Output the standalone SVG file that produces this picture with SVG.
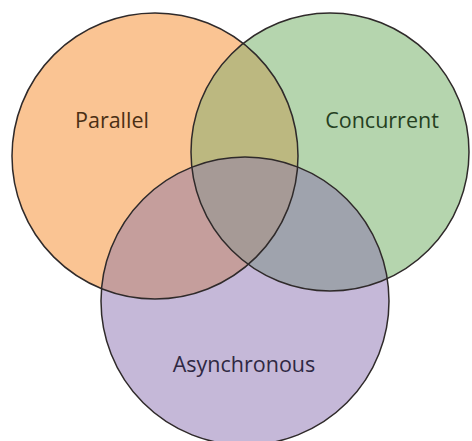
<svg xmlns="http://www.w3.org/2000/svg" width="472" height="441" viewBox="0 0 472 441">
  <style>
    .lbl { font-family: "Open Sans", "Liberation Sans", sans-serif; font-size: 21.5px; text-anchor: middle; }
    .edge { fill: none; stroke: #2f2a2a; stroke-width: 1.5; }
  </style>
  <defs>
    <clipPath id="clipA"><circle cx="155" cy="156" r="143"/></clipPath>
    <clipPath id="clipB"><circle cx="330" cy="152" r="139"/></clipPath>
  </defs>
  <rect width="472" height="441" fill="#ffffff"/>
  <g id="parallel">
    <circle cx="155" cy="156" r="143" fill="#fac493"/>
  </g>
  <g id="concurrent">
    <circle cx="330" cy="152" r="139" fill="#b5d5ae"/>
  </g>
  <g id="asynchronous">
    <circle cx="245" cy="301" r="144" fill="#c5b8d8"/>
  </g>
  <g id="overlaps">
    <circle cx="330" cy="152" r="139" fill="#bcb880" clip-path="url(#clipA)"/>
    <circle cx="245" cy="301" r="144" fill="#c59e9c" clip-path="url(#clipA)"/>
    <circle cx="245" cy="301" r="144" fill="#9fa3ad" clip-path="url(#clipB)"/>
    <g clip-path="url(#clipB)">
      <circle cx="245" cy="301" r="144" fill="#a69a96" clip-path="url(#clipA)"/>
    </g>
  </g>
  <g id="outlines">
    <circle class="edge" cx="155" cy="156" r="143"/>
    <circle class="edge" cx="330" cy="152" r="139"/>
    <circle class="edge" cx="245" cy="301" r="144"/>
  </g>
  <g id="labels">
    <text class="lbl" x="112" y="128" fill="#4a2f14">Parallel</text>
    <text class="lbl" x="382" y="128" fill="#25401f">Concurrent</text>
    <text class="lbl" x="244" y="372" fill="#2f2842">Asynchronous</text>
  </g>
</svg>
